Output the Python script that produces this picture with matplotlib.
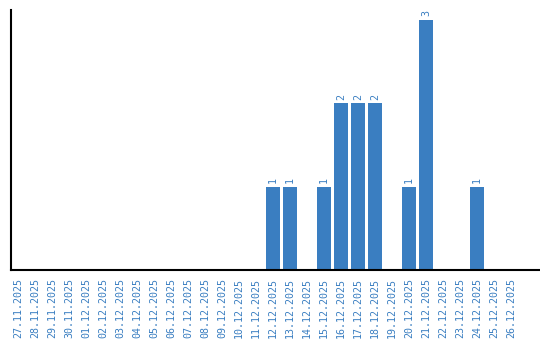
import matplotlib
matplotlib.use("Agg")
import matplotlib.pyplot as plt
import numpy as np

dates = ["27.11.2025", "28.11.2025", "29.11.2025", "30.11.2025", "01.12.2025",
         "02.12.2025", "03.12.2025", "04.12.2025", "05.12.2025", "06.12.2025",
         "07.12.2025", "08.12.2025", "09.12.2025", "10.12.2025", "11.12.2025",
         "12.12.2025", "13.12.2025", "14.12.2025", "15.12.2025", "16.12.2025",
         "17.12.2025", "18.12.2025", "19.12.2025", "20.12.2025", "21.12.2025",
         "22.12.2025", "23.12.2025", "24.12.2025", "25.12.2025", "26.12.2025"]
counts = [0, 0, 0, 0, 0, 0, 0, 0, 0, 0, 0, 0, 0, 0, 0,
          1, 1, 0, 1, 2, 2, 2, 0, 1, 3, 0, 0, 1, 0, 0]

blue = "#3a7ec1"
fig = plt.figure(figsize=(5.4, 3.4), dpi=100)
ax = fig.add_axes([11/540, 70/340, 529/540, 260/340])
x = np.arange(len(dates))
bars = ax.bar(x, counts, width=0.82, color=blue)
for xi, c in zip(x, counts):
    if c > 0:
        ax.text(xi, c + 0.045, str(c), rotation=90, ha="center", va="bottom",
                color=blue, fontsize=7.2, family="DejaVu Sans Mono")
ax.set_xlim(-0.41, 30.7)
ax.set_ylim(0, 3.12)
ax.set_xticks(x)
ax.set_xticklabels(dates, rotation=90, color=blue, fontsize=7.2,
                   family="DejaVu Sans Mono")
ax.tick_params(axis="x", length=0, pad=6)
ax.set_yticks([])
for s in ["top", "right"]:
    ax.spines[s].set_visible(False)
ax.spines["left"].set_linewidth(1.5)
ax.spines["bottom"].set_linewidth(1.5)
fig.savefig("out.png", dpi=100)
